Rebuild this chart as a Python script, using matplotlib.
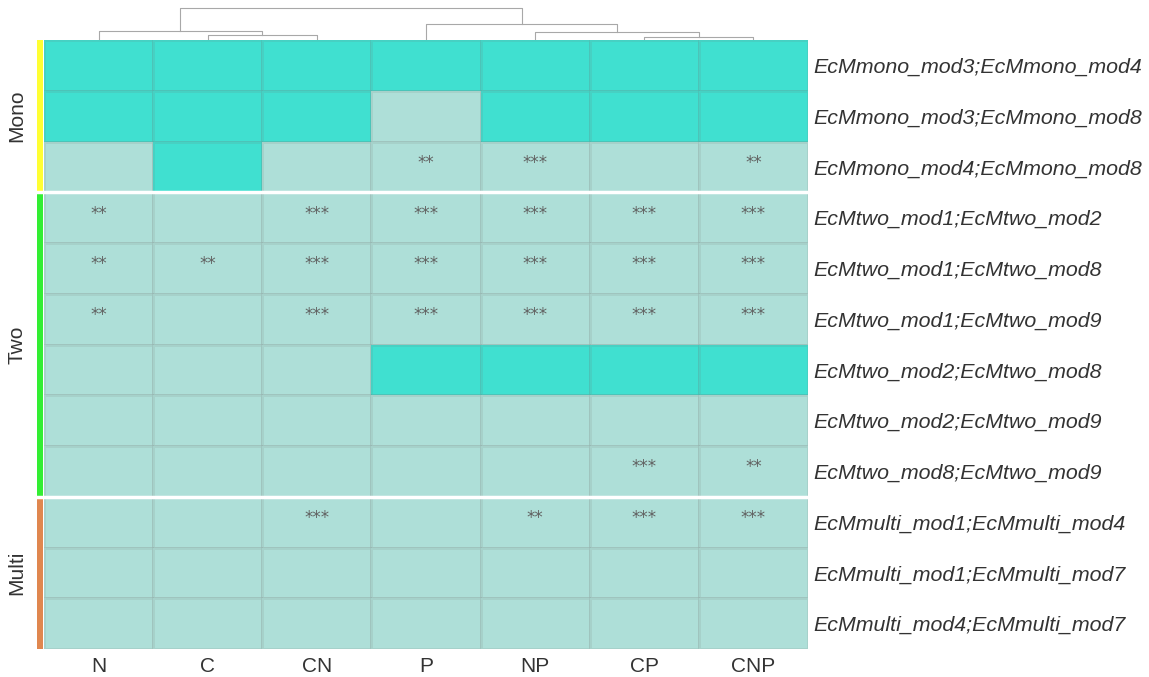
import matplotlib
matplotlib.use("Agg")
import matplotlib.pyplot as plt
import numpy as np
from matplotlib.colors import ListedColormap

# ---- data ----
columns = ["N", "C", "CN", "P", "NP", "CP", "CNP"]
rows = [
    "EcMmono_mod3;EcMmono_mod4",
    "EcMmono_mod3;EcMmono_mod8",
    "EcMmono_mod4;EcMmono_mod8",
    "EcMtwo_mod1;EcMtwo_mod2",
    "EcMtwo_mod1;EcMtwo_mod8",
    "EcMtwo_mod1;EcMtwo_mod9",
    "EcMtwo_mod2;EcMtwo_mod8",
    "EcMtwo_mod2;EcMtwo_mod9",
    "EcMtwo_mod8;EcMtwo_mod9",
    "EcMmulti_mod1;EcMmulti_mod4",
    "EcMmulti_mod1;EcMmulti_mod7",
    "EcMmulti_mod4;EcMmulti_mod7",
]
groups = ["Mono", "Two", "Multi"]
group_sizes = [3, 6, 3]
group_colors = ["#FFFF33", "#33EE33", "#E0874F"]

values = [
    [1, 1, 1, 1, 1, 1, 1],
    [1, 1, 1, 0, 1, 1, 1],
    [0, 1, 0, 0, 0, 0, 0],
    [0, 0, 0, 0, 0, 0, 0],
    [0, 0, 0, 0, 0, 0, 0],
    [0, 0, 0, 0, 0, 0, 0],
    [0, 0, 0, 1, 1, 1, 1],
    [0, 0, 0, 0, 0, 0, 0],
    [0, 0, 0, 0, 0, 0, 0],
    [0, 0, 0, 0, 0, 0, 0],
    [0, 0, 0, 0, 0, 0, 0],
    [0, 0, 0, 0, 0, 0, 0],
]
stars = [
    ["", "", "", "", "", "", ""],
    ["", "", "", "", "", "", ""],
    ["", "", "", "**", "***", "", "**"],
    ["**", "", "***", "***", "***", "***", "***"],
    ["**", "**", "***", "***", "***", "***", "***"],
    ["**", "", "***", "***", "***", "***", "***"],
    ["", "", "", "", "", "", ""],
    ["", "", "", "", "", "", ""],
    ["", "", "", "", "", "***", "**"],
    ["", "", "***", "", "**", "***", "***"],
    ["", "", "", "", "", "", ""],
    ["", "", "", "", "", "", ""],
]
# column dendrogram merges: (left id, right id, height); leaves are 0..6
merges = [
    (1, 2, 5),
    (0, 7, 9),
    (5, 6, 3),
    (4, 9, 8),
    (3, 10, 16),
    (8, 11, 32),
]

cell_colors = ["#AEDFD8", "#40E0D0"]

# ---- layout ----
W, H = 1149, 677
fig = plt.figure(figsize=(W / 100, H / 100), dpi=100)
plt.rcParams['font.family'] = ['Liberation Sans', 'DejaVu Sans']
txt_color = "#333333"

def px_axes(x0, y0, x1, y1):
    return fig.add_axes([x0 / W, 1 - y1 / H, (x1 - x0) / W, (y1 - y0) / H])

hx0, hx1, hy0, hy1 = 44, 808, 40, 649
ax = px_axes(hx0, hy0, hx1, hy1)
arr = np.array(values)
nr, nc = arr.shape
ax.pcolormesh(np.arange(nc + 1), np.arange(nr + 1), arr,
              cmap=ListedColormap(cell_colors), vmin=0, vmax=1,
              edgecolors=(0.45, 0.45, 0.45, 0.13), linewidth=0.9)
ax.set_xlim(0, nc)
ax.set_ylim(nr, 0)
for i in range(nr):
    for j in range(nc):
        if stars[i][j]:
            ax.text(j + 0.5, i + 0.42, stars[i][j], ha="center", va="center",
                    fontsize=12, color="#606060", family="DejaVu Sans")
# group separators
bounds = np.cumsum(group_sizes)[:-1]
for b in bounds:
    ax.axhline(b, color="white", lw=2.5)
ax.set_xticks(np.arange(nc) + 0.5)
ax.set_xticklabels(columns, fontsize=15, color=txt_color)
ax.tick_params(axis="x", length=0, pad=6)
ax.yaxis.tick_right()
ax.set_yticks(np.arange(nr) + 0.5)
ax.set_yticklabels(rows, fontsize=15.4, style="italic", color=txt_color)
ax.tick_params(axis="y", length=0, pad=4)
for s in ax.spines.values():
    s.set_visible(False)

# left annotation bar
bax = px_axes(37, hy0, 43, hy1)
start = 0
for g, n, c in zip(groups, group_sizes, group_colors):
    bax.axhspan(start, start + n, color=c, lw=0)
    start += n
for b in bounds:
    bax.axhline(b, color="white", lw=2.5)
bax.set_ylim(nr, 0)
bax.set_xlim(0, 1)
bax.axis("off")
start = 0
for g, n in zip(groups, group_sizes):
    fig.text(17 / W, 1 - (hy0 + (start + n / 2) * (hy1 - hy0) / nr) / H, g,
             rotation=90, ha="center", va="center", fontsize=15, color=txt_color)
    start += n

# column dendrogram
dax = px_axes(hx0, 0, hx1, hy0)
pos = {i: i + 0.5 for i in range(nc)}
hgt = {i: 0 for i in range(nc)}
nid = nc
for a, b, h in merges:
    xa, xb = pos[a], pos[b]
    dax.plot([xa, xa, xb, xb], [hgt[a], h, h, hgt[b]], color="#a8a8a8", lw=0.8)
    pos[nid] = (xa + xb) / 2
    hgt[nid] = h
    nid += 1
dax.set_xlim(0, nc)
dax.set_ylim(0, 40)
dax.axis("off")

fig.savefig("out.png", dpi=100)
